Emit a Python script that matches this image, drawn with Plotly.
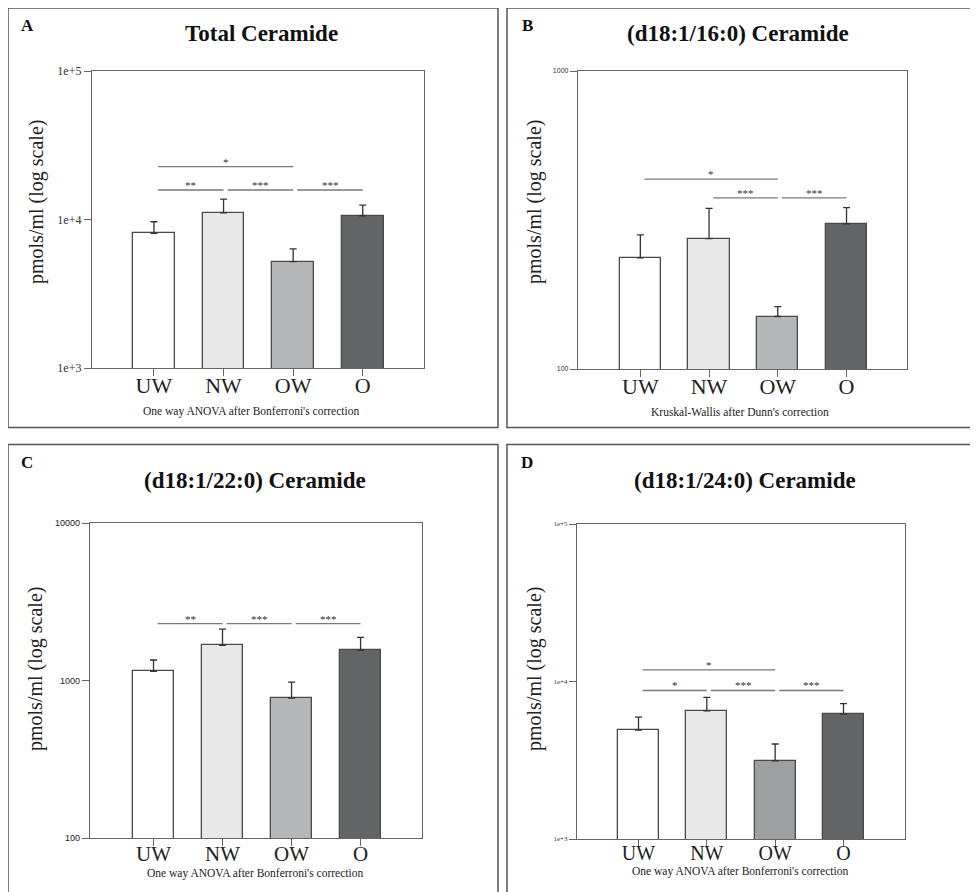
import math
import plotly.graph_objects as go

W, H = 978, 892
OFF = 8  # page body margin in the browser
FW, FH = W - OFF, H - OFF

# ---------------- data ----------------
categories = ["UW", "NW", "OW", "O"]

titles = ["Total Ceramide", "(d18:1/16:0) Ceramide", "(d18:1/22:0) Ceramide", "(d18:1/24:0) Ceramide"]
panel_letters = ["A", "B", "C", "D"]
captions = ["One way ANOVA after Bonferroni's correction",
            "Kruskal-Wallis after Dunn's correction",
            "One way ANOVA after Bonferroni's correction",
            "One way ANOVA after Bonferroni's correction"]

total_mean = [8070, 11100, 5200, 10600]
total_upper = [9660, 13700, 6350, 12500]

c16_mean = [236, 274, 150, 307]
c16_upper = [282, 346, 162, 348]

c22_mean = [1143, 1671, 774, 1553]
c22_upper = [1349, 2122, 977, 1880]

c24_mean = [4920, 6520, 3140, 6210]
c24_upper = [5940, 7930, 4010, 7230]

# significance: (group i, group j, bracket height, label)
total_sig = [(0, 2, 22700, "*"), (0, 1, 15800, "**"), (1, 2, 15800, "***"), (2, 3, 15800, "***")]
c16_sig = [(0, 2, 434, "*"), (1, 2, 375, "***"), (2, 3, 375, "***")]
c22_sig = [(0, 1, 2297, "**"), (1, 2, 2297, "***"), (2, 3, 2297, "***")]
c24_sig = [(0, 2, 11860, "*"), (0, 1, 8770, "*"), (1, 2, 8770, "***"), (2, 3, 8770, "***")]

y_ticks_total = [1e3, 1e4, 1e5]
y_ticktext_total = ["1e+3", "1e+4", "1e+5"]
y_ticks_c16 = [100, 1000]
y_ticktext_c16 = ["100", "1000"]
y_ticks_c22 = [100, 1000, 10000]
y_ticktext_c22 = ["100", "1000", "10000"]
y_ticks_c24 = [1e3, 1e4, 1e5]
y_ticktext_c24 = ["1e+3", "1e+4", "1e+5"]

means = [total_mean, c16_mean, c22_mean, c24_mean]
uppers = [total_upper, c16_upper, c22_upper, c24_upper]
sigs = [total_sig, c16_sig, c22_sig, c24_sig]
yticks = [y_ticks_total, y_ticks_c16, y_ticks_c22, y_ticks_c24]
yticktexts = [y_ticktext_total, y_ticktext_c16, y_ticktext_c22, y_ticktext_c24]

# ---------------- layout / style ----------------
SERIF = "Liberation Serif, Times New Roman, serif"
SANS = "Liberation Sans, Arial, sans-serif"

bar_colors = [
    ["#ffffff", "#e8e8e8", "#b6b7b9", "#636466"],
    ["#ffffff", "#e8e8e8", "#b6b7b9", "#636466"],
    ["#ffffff", "#e8e8e8", "#b6b7b9", "#636466"],
    ["#ffffff", "#e8e8e8", "#9e9fa1", "#636466"],
]

# plot areas in screen pixels: (left, right, top, bottom)
areas = [(92, 424, 71, 368), (578, 907, 71, 369), (90, 422, 523, 838), (577, 905, 524, 839)]
xranges = [(-0.89, 3.88), (-0.907, 3.88), (-0.92, 3.89), (-0.90, 3.90)]
yranges = [(3, 5), (2, 3), (2, 4), (3, 5)]
xtick_sizes = [22, 22, 21, 20]
xtick_standoff = [-10, -10, -10, -11]
ytick_fonts = [dict(family=SERIF, size=12, color="#333"),
               dict(family=SANS, size=7, color="#333"),
               dict(family=SANS, size=9, color="#222"),
               dict(family=SERIF, size=7, color="#333")]
title_pos = [(261, 33), (738, 33), (255, 480), (745, 480)]
letter_pos = [(27, 25), (527, 25), (27, 463), (527, 463)]
ytitle_pos = [(36, 202), (534, 202), (35, 669), (534, 669)]
caption_pos = [(251, 412), (740, 412), (255, 873), (740, 871)]
boxes = [(8, 498, 8, 427.5), (507, 995, 8, 427.5), (8, 498, 444.5, 905), (507, 995, 444.5, 905)]


def px(x):
    return (x - OFF) / FW


def py(y):
    return 1 - (y - OFF) / FH


fig = go.Figure()
annotations = []
shapes = []
layout_axes = {}

for k in range(4):
    n = "" if k == 0 else str(k + 1)
    xa, ya = "x" + n, "y" + n
    l, r, t, b = areas[k]
    layout_axes["xaxis" + n] = dict(
        domain=[px(l), px(r)], anchor=ya, range=list(xranges[k]), automargin=False,
        tickvals=list(range(len(categories))), ticktext=categories,
        ticks="outside", ticklen=7, tickwidth=1.3, tickcolor="#666",
        ticklabelstandoff=xtick_standoff[k],
        showline=True, linecolor="#666", linewidth=1.3, mirror=True,
        showgrid=False, zeroline=False,
        tickfont=dict(family=SERIF, size=xtick_sizes[k], color="#222"),
    )
    layout_axes["yaxis" + n] = dict(
        domain=[py(b), py(t)], anchor=xa, type="log", range=list(yranges[k]), automargin=False,
        tickvals=yticks[k], ticktext=yticktexts[k],
        ticks="outside", ticklen=7, tickwidth=1.3, tickcolor="#666",
        showline=True, linecolor="#666", linewidth=1.3, mirror=True,
        showgrid=False, zeroline=False, tickfont=ytick_fonts[k],
    )

    m = means[k]
    up = [u - v for u, v in zip(uppers[k], m)]
    fig.add_trace(go.Bar(
        x=list(range(len(categories))), y=m, width=0.6,
        marker=dict(color=bar_colors[k], line=dict(color="#4a4a4a", width=1.3)),
        error_y=dict(type="data", symmetric=False, array=up, arrayminus=[0] * len(m),
                     color="#333", thickness=1.3, width=3.5),
        xaxis=xa, yaxis=ya, showlegend=False, hoverinfo="skip",
    ))

    for (i, j, h, lab) in sigs[k]:
        fig.add_trace(go.Scatter(
            x=[i + 0.06, j], y=[h, h], mode="lines",
            line=dict(color="#7a7a7a", width=1.3),
            xaxis=xa, yaxis=ya, showlegend=False, hoverinfo="skip",
        ))
        annotations.append(dict(
            x=(i + 0.06 + j) / 2, y=math.log10(h), xref=xa, yref=ya,
            text=lab, showarrow=False, yanchor="bottom", yshift=-3,
            font=dict(family=SERIF, size=11, color="#333"),
        ))

    annotations.append(dict(x=px(title_pos[k][0]), y=py(title_pos[k][1]), xref="paper", yref="paper",
                            text="<b>%s</b>" % titles[k], showarrow=False,
                            xanchor="center", yanchor="middle",
                            font=dict(family=SERIF, size=23, color="#111")))
    annotations.append(dict(x=px(letter_pos[k][0]), y=py(letter_pos[k][1]), xref="paper", yref="paper",
                            text="<b>%s</b>" % panel_letters[k], showarrow=False,
                            xanchor="center", yanchor="middle",
                            font=dict(family=SERIF, size=17, color="#111")))
    annotations.append(dict(x=px(ytitle_pos[k][0]), y=py(ytitle_pos[k][1]), xref="paper", yref="paper",
                            text="pmols/ml (log scale)", showarrow=False, textangle=-90,
                            xanchor="center", yanchor="middle",
                            font=dict(family=SERIF, size=20, color="#222")))
    annotations.append(dict(x=px(caption_pos[k][0]), y=py(caption_pos[k][1]), xref="paper", yref="paper",
                            text=captions[k], showarrow=False,
                            xanchor="center", yanchor="middle",
                            font=dict(family=SERIF, size=11.5, color="#222")))
    x0, x1, y0, y1 = boxes[k]
    shapes.append(dict(type="rect", xref="paper", yref="paper",
                       x0=px(x0), x1=px(x1), y0=py(y1), y1=py(y0),
                       line=dict(color="#555", width=1.5), fillcolor="rgba(0,0,0,0)", layer="below"))

fig.update_layout(
    width=FW, height=FH, margin=dict(l=0, r=0, t=0, b=0, autoexpand=False),
    paper_bgcolor="white", plot_bgcolor="white",
    annotations=annotations, shapes=shapes, bargap=0,
    **layout_axes,
)

fig.write_html("out.html")
